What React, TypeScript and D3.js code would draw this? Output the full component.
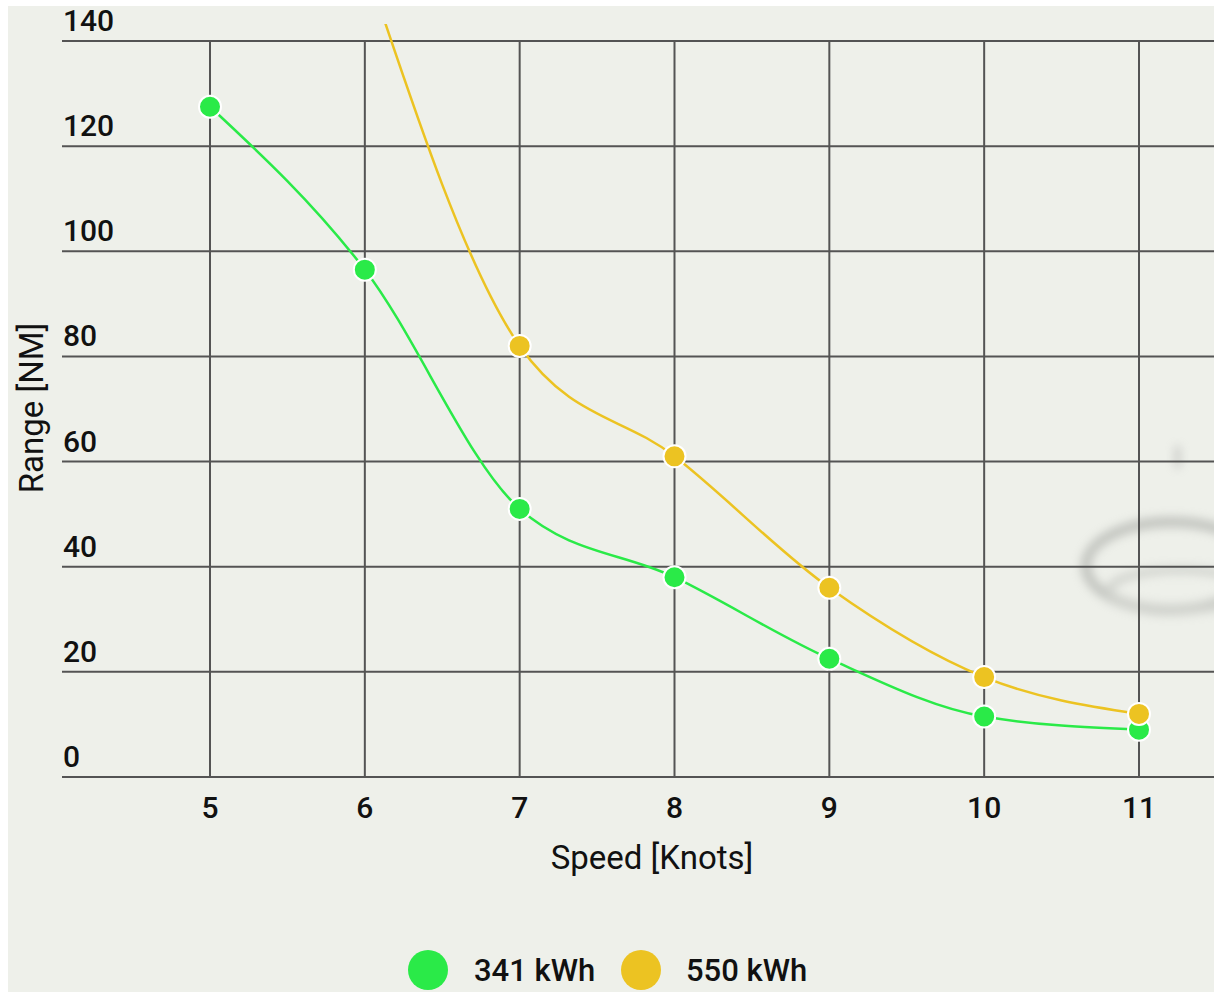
import React from "react";
import * as d3 from "d3";

const speeds = [5, 6, 7, 8, 9, 10, 11];
const range341 = [127.5, 96.5, 51, 38, 22.5, 11.5, 9];
// first point of the 550 kWh series lies above the chart top and is clipped
const speeds550 = [6, 7, 8, 9, 10, 11];
const range550 = [155, 82, 61, 36, 19, 12];
const yTicks = [0, 20, 40, 60, 80, 100, 120, 140];
const legendLabels = ["341 kWh", "550 kWh"];

const W = 1214;
const H = 994;
const GREEN = "#2aea48";
const YELLOW = "#ecc322";
const FONT = "Roboto, 'Noto Sans', sans-serif";

const x = d3.scaleLinear().domain([5, 11]).range([210, 1139]);
const y = d3.scaleLinear().domain([0, 140]).range([777, 41]);

const line = d3
  .line<[number, number]>()
  .x((d) => x(d[0]))
  .y((d) => y(d[1]))
  .curve(d3.curveMonotoneX);

const series = [
  { name: legendLabels[0], color: GREEN, pts: speeds.map((s, i) => [s, range341[i]] as [number, number]) },
  { name: legendLabels[1], color: YELLOW, pts: speeds550.map((s, i) => [s, range550[i]] as [number, number]) },
];

export default function App() {
  return (
    <svg
      width={W}
      height={H}
      style={{ position: "absolute", left: 0, top: 0, fontFamily: FONT }}
    >
      <defs>
        <filter id="blur" x="-20%" y="-20%" width="140%" height="140%">
          <feGaussianBlur stdDeviation="5" />
        </filter>
        <clipPath id="plot">
          <rect x={62} y={24} width={W - 62} height={777 - 24 + 20} />
        </clipPath>
      </defs>
      <rect x={0} y={0} width={W} height={H} fill="#ffffff" />
      <rect x={8} y={6} width={W - 8} height={H - 8} fill="#eef0ea" />

      {/* faded background photo shapes */}
      <g filter="url(#blur)" opacity={0.5}>
        <ellipse cx={1172} cy={566} rx={86} ry={44} fill="none" stroke="#9a9c98" strokeWidth={11} />
        <ellipse cx={1180} cy={590} rx={70} ry={20} fill="none" stroke="#b5b7b2" strokeWidth={8} />
        <rect x={1175} y={446} width={5} height={22} fill="#999" />
      </g>

      {/* grid */}
      <g stroke="#444" strokeWidth={2} opacity={0.9}>
        {yTicks.map((t) => (
          <line key={"h" + t} x1={62} x2={W} y1={y(t)} y2={y(t)} />
        ))}
        {speeds.map((s) => (
          <line key={"v" + s} x1={x(s)} x2={x(s)} y1={y(140)} y2={y(0)} />
        ))}
      </g>

      {/* y tick labels */}
      <g fontSize={30} fontWeight={500} fill="#111">
        {yTicks.map((t) => (
          <text key={"yl" + t} x={63} y={y(t) - 10}>
            {t}
          </text>
        ))}
      </g>

      {/* x tick labels */}
      <g fontSize={30} fontWeight={500} fill="#111" textAnchor="middle">
        {speeds.map((s) => (
          <text key={"xl" + s} x={x(s)} y={818}>
            {s}
          </text>
        ))}
      </g>

      <text x={652} y={869} fontSize={33} textAnchor="middle" fill="#111">
        Speed [Knots]
      </text>
      <text
        transform="translate(43,408) rotate(-90)"
        fontSize={33}
        textAnchor="middle"
        fill="#111"
      >
        Range [NM]
      </text>

      {/* lines */}
      <g clipPath="url(#plot)">
        {series.map((s) => (
          <path key={s.name} d={line(s.pts) || ""} fill="none" stroke={s.color} strokeWidth={2.5} />
        ))}
      </g>

      {/* points */}
      <g clipPath="url(#plot)">
        {series.map((s) =>
          s.pts
            .filter((p) => p[1] <= 140)
            .map((p) => (
              <circle
                key={s.name + p[0]}
                cx={x(p[0])}
                cy={y(p[1])}
                r={11}
                fill={s.color}
                stroke="#ffffff"
                strokeWidth={2}
              />
            ))
        )}
      </g>

      {/* legend */}
      <g fontSize={31} fontWeight={500} fill="#111">
        <circle cx={428} cy={970} r={20} fill={GREEN} />
        <text x={474} y={981}>
          {legendLabels[0]}
        </text>
        <circle cx={641} cy={970} r={20} fill={YELLOW} />
        <text x={686} y={981}>
          {legendLabels[1]}
        </text>
      </g>
    </svg>
  );
}
